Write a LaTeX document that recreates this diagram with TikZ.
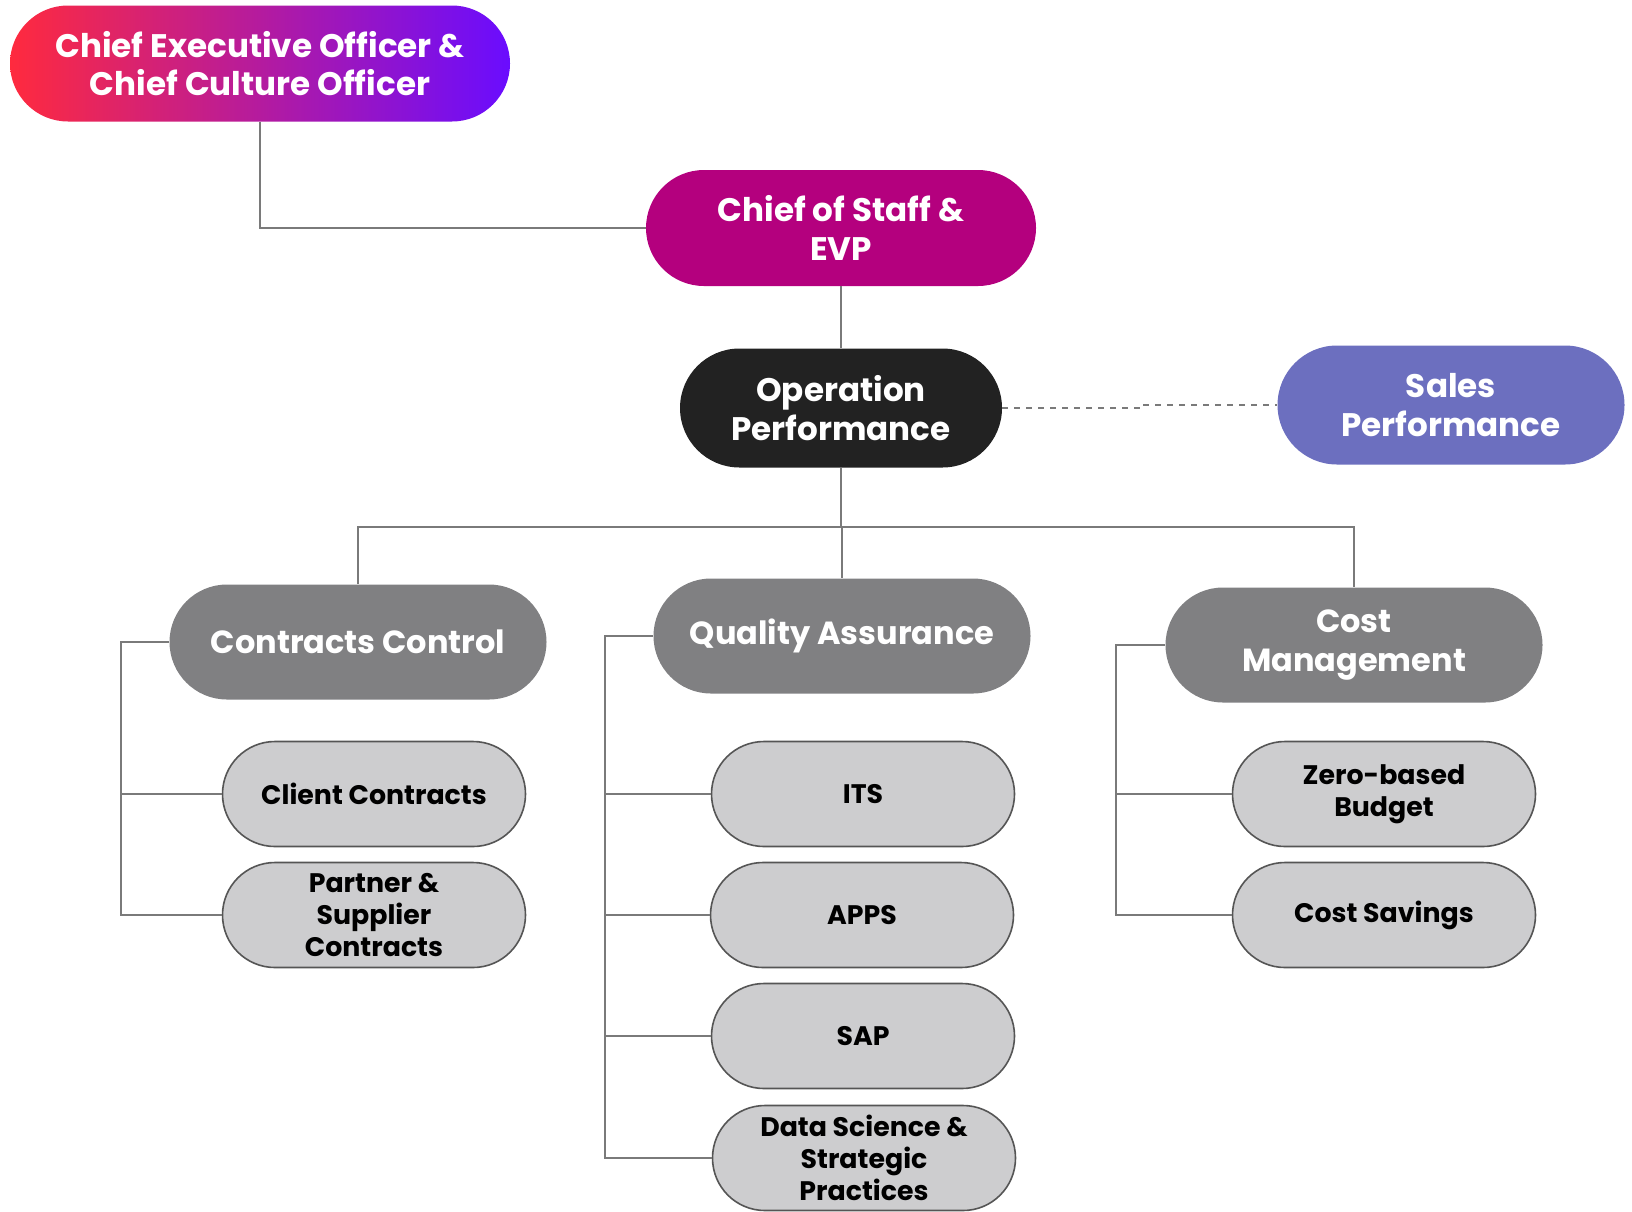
\documentclass[tikz,border=0pt]{standalone}
\usepackage{fontspec}
\setmainfont{Poppins}
\usetikzlibrary{shapes.misc}
\definecolor{ceoA}{HTML}{FF2A3E}
\definecolor{ceoB}{HTML}{6A0CFF}
\definecolor{cosC}{HTML}{B4007E}
\definecolor{opC}{HTML}{222222}
\definecolor{salesC}{HTML}{6C6FBF}
\definecolor{midC}{HTML}{808082}
\definecolor{leafC}{HTML}{CDCDCF}
\definecolor{leafB}{HTML}{555555}
\definecolor{lineC}{HTML}{7A7A7A}
\tikzset{
  pill/.style={rounded rectangle, inner sep=0pt, align=center, font=\bfseries},
  topbox/.style={pill, text=white, font=\fontsize{16.3}{19.4}\selectfont\bfseries},
  midbox/.style={pill, fill=midC, text=white, minimum width=188.5pt, minimum height=57.5pt, font=\fontsize{16}{19.4}\selectfont\bfseries},
  leafbox/.style={pill, fill=leafC, draw=leafB, line width=0.8pt, text=black, minimum width=151.5pt, minimum height=52.5pt, font=\fontsize{13.4}{15.9}\selectfont\bfseries},
  conn/.style={draw=lineC, line width=0.8pt},
  dashconn/.style={draw=lineC, line width=0.8pt, dashed},
}
\begin{document}
\begin{tikzpicture}[x=0.5pt, y=-0.5pt]
\useasboundingbox (0,0) rectangle (1632,1211);
% top level
\node[topbox, shading angle=60, left color=ceoA, right color=ceoB, minimum width=250pt, minimum height=58pt] (ceo) at (260,63.5) {Chief Executive Officer \&\\Chief Culture Officer};
\node[topbox, fill=cosC, minimum width=195pt, minimum height=58pt] (cos) at (841,228) {Chief of Staff \&\\EVP};
\node[topbox, fill=opC, minimum width=161pt, minimum height=59.5pt] (op) at (841,408) {Operation\\Performance};
\node[topbox, fill=salesC, minimum width=173.5pt, minimum height=59.5pt] (sales) at (1451,405) {Sales\\Performance};
% second level
\node[midbox] (cc) at (358,642) {Contracts Control};
\node[midbox] (qa) at (842,636) {Quality Assurance};
\node[midbox] (cm) at (1354,645) {Cost\\Management};
% leaves
\node[leafbox] (cl) at (374,794) {Client Contracts};
\node[leafbox] (ps) at (374,915) {Partner \&\\Supplier\\Contracts};
\node[leafbox] (its) at (863,794) {ITS};
\node[leafbox] (apps) at (862,915) {APPS};
\node[leafbox] (sap) at (863,1036) {SAP};
\node[leafbox] (ds) at (864,1158) {Data Science \&\\Strategic\\Practices};
\node[leafbox] (zb) at (1384,794) {Zero-based\\Budget};
\node[leafbox] (cs) at (1384,915) {Cost Savings};
% connectors
\draw[conn] (ceo.south) |- (cos.west);
\draw[conn] (cos.south) -- (op.north);
\draw[dashconn] (op.east) -- ++(140,0) |- (sales.west);
\draw[conn] (op.south) -- ++(0,59) coordinate (hub);
\draw[conn] (hub) -| (cc.north);
\draw[conn] (hub) -| (qa.north);
\draw[conn] (hub) -| (cm.north);
\draw[conn] (cc.west) -- ++(-48,0) coordinate (ccb) |- (ps.west);
\draw[conn] (ccb) |- (cl.west);
\draw[conn] (qa.west) -- ++(-48,0) coordinate (qab) |- (ds.west);
\draw[conn] (qab) |- (its.west);
\draw[conn] (qab) |- (apps.west);
\draw[conn] (qab) |- (sap.west);
\draw[conn] (cm.west) -- ++(-49,0) coordinate (cmb) |- (cs.west);
\draw[conn] (cmb) |- (zb.west);
\end{tikzpicture}
\end{document}
